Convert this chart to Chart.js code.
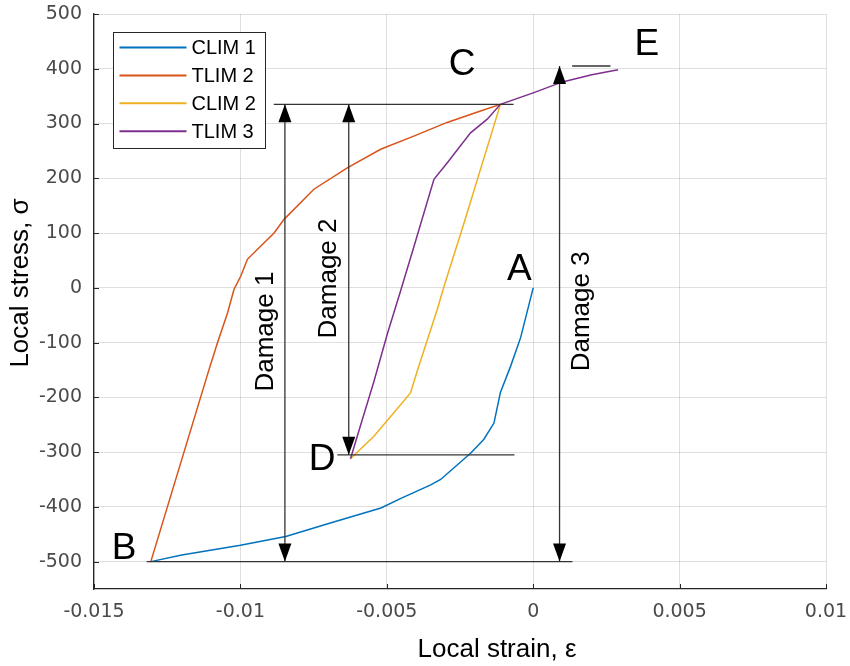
<!DOCTYPE html>
<html>
<head>
<meta charset="utf-8">
<title>Local stress vs local strain</title>
<script src="https://cdn.jsdelivr.net/npm/chart.js@4.4.1/dist/chart.umd.min.js"></script>
<style>
  html, body { margin: 0; padding: 0; background: #fff; }
  canvas { display: block; }
</style>
</head>
<body>
<canvas id="hysteresis" width="850" height="666"></canvas>
<script>
// axis ticks
const xTicks = [-0.015, -0.01, -0.005, 0, 0.005, 0.01];
const yTicks = [-500, -400, -300, -200, -100, 0, 100, 200, 300, 400, 500];

// branch A -> B
const clim1Strain = [0, -0.00043, -0.00077, -0.00112, -0.00134, -0.00169, -0.00214, -0.00316, -0.0035, -0.0045, -0.0052, -0.0069, -0.00845, -0.01, -0.012, -0.01306];
const clim1Stress = [0, -91, -143, -191, -247, -277, -302, -350, -360, -384, -402, -429, -454, -470, -488, -500];

// branch B -> C
const tlim2Strain = [-0.01306, -0.01107, -0.01078, -0.01044, -0.01022, -0.00999, -0.00976, -0.00931, -0.00885, -0.00851, -0.00749, -0.00635, -0.00521, -0.00408, -0.00294, -0.0018, -0.00112];
const tlim2Stress = [-500, -149, -100, -46, -3, 21, 52, 76, 100, 125, 180, 219, 253, 277, 302, 323, 335];

// branch C -> D
const clim2Strain = [-0.00112, -0.00237, -0.00305, -0.00328, -0.00396, -0.00419, -0.00476, -0.00544, -0.00624];
const clim2Stress = [335, 117, 2, -40, -152, -192, -228, -271, -312];

// branch D -> E
const tlim3Strain = [-0.00624, -0.00589, -0.00544, -0.00498, -0.00453, -0.00408, -0.00339, -0.00294, -0.00214, -0.00157, -0.00112, 0, 0.001, 0.002, 0.0029];
const tlim3Stress = [-312, -250, -171, -84, -6, 74, 198, 228, 283, 308, 335, 356, 376, 389, 398];

const seriesNames = ['CLIM 1', 'TLIM 2', 'CLIM 2', 'TLIM 3'];

// horizontal guide lines (stress level, strain start, strain end)
const guideStress = [335, -500, -305, 405];
const guideFrom = [-0.00886, -0.0132, -0.00669, 0.00133];
const guideTo = [-0.00067, 0.00134, -0.00064, 0.00264];

// damage arrows (strain position, upper stress, lower stress)
const damageStrain = [-0.00848, -0.0063, 0.0009];
const damageTop = [335, 335, 405];
const damageBottom = [-500, -305, -500];
const damageNames = ['Damage 1', 'Damage 2', 'Damage 3'];
const damageLabelStrain = [-0.00912, -0.00697, 0.00165];
const damageLabelStress = [-80, 17, -43];

// point letters
const pointNames = ['A', 'B', 'C', 'D', 'E'];
const pointStrain = [-0.00047, -0.01397, -0.00243, -0.00721, 0.00388];
const pointStress = [33, -477, 407, -314, 443];

const colors = ['#0072BD', '#D95319', '#EDB120', '#7E2F8E'];
const AXIS = '#262626';
const SANS = '"Liberation Sans", Arial, sans-serif';

const pairs = (xs, ys) => xs.map((v, i) => ({ x: v, y: ys[i] }));
const branches = [
  pairs(clim1Strain, clim1Stress),
  pairs(tlim2Strain, tlim2Stress),
  pairs(clim2Strain, clim2Stress),
  pairs(tlim3Strain, tlim3Stress)
];

const datasets = branches.map((pts, i) => ({
  label: seriesNames[i],
  data: pts,
  showLine: true,
  borderColor: colors[i],
  backgroundColor: colors[i],
  borderWidth: 1.5,
  pointRadius: 0,
  tension: 0,
  order: branches.length - 1 - i
}));

function segment(ctx, x1, y1, x2, y2) {
  ctx.beginPath();
  ctx.moveTo(x1, y1);
  ctx.lineTo(x2, y2);
  ctx.stroke();
}

function arrowHead(ctx, px, py, dir) {
  // dir = -1 points up, +1 points down
  ctx.beginPath();
  ctx.moveTo(px, py);
  ctx.lineTo(px - 6.5, py - dir * 18);
  ctx.lineTo(px + 6.5, py - dir * 18);
  ctx.closePath();
  ctx.fill();
}

const overlay = {
  id: 'overlay',
  afterDatasetsDraw(chart) {
    const { ctx, scales: { x, y } } = chart;
    ctx.save();
    ctx.strokeStyle = '#333';
    ctx.fillStyle = '#000';
    ctx.lineWidth = 1.3;

    guideStress.forEach((s, i) => {
      const py = y.getPixelForValue(s);
      segment(ctx, x.getPixelForValue(guideFrom[i]), py, x.getPixelForValue(guideTo[i]), py);
    });

    damageStrain.forEach((e, i) => {
      const px = x.getPixelForValue(e);
      const top = y.getPixelForValue(damageTop[i]);
      const bot = y.getPixelForValue(damageBottom[i]);
      segment(ctx, px, top, px, bot);
      arrowHead(ctx, px, top, -1);
      arrowHead(ctx, px, bot, 1);
    });

    ctx.fillStyle = '#000';
    ctx.textAlign = 'center';
    ctx.textBaseline = 'middle';
    ctx.font = '26px ' + SANS;
    damageNames.forEach((t, i) => {
      ctx.save();
      ctx.translate(x.getPixelForValue(damageLabelStrain[i]), y.getPixelForValue(damageLabelStress[i]));
      ctx.rotate(-Math.PI / 2);
      ctx.fillText(t, 0, 0);
      ctx.restore();
    });

    ctx.font = '37px ' + SANS;
    pointNames.forEach((t, i) => {
      ctx.fillText(t, x.getPixelForValue(pointStrain[i]), y.getPixelForValue(pointStress[i]));
    });
    ctx.restore();
  },
  afterDraw(chart) {
    const { ctx, chartArea: a, scales: { x, y } } = chart;
    ctx.save();

    // inward tick marks
    ctx.strokeStyle = AXIS;
    ctx.lineWidth = 1;
    xTicks.forEach(v => {
      const px = Math.round(x.getPixelForValue(v)) + 0.5;
      segment(ctx, px, a.bottom, px, a.bottom - 5);
    });
    yTicks.forEach(v => {
      const py = Math.round(y.getPixelForValue(v)) + 0.5;
      segment(ctx, a.left, py, a.left + 5, py);
    });

    // legend box
    const lx = a.left + 19.5, ly = a.top + 18.5;
    ctx.fillStyle = '#fff';
    ctx.fillRect(lx, ly, 152, 116);
    ctx.strokeStyle = AXIS;
    ctx.strokeRect(lx, ly, 152, 116);
    ctx.font = '20px ' + SANS;
    ctx.textAlign = 'left';
    ctx.textBaseline = 'middle';
    seriesNames.forEach((name, i) => {
      const ry = ly + 15 + i * 27.9;
      ctx.strokeStyle = colors[i];
      ctx.lineWidth = 2;
      segment(ctx, lx + 6, ry, lx + 73, ry);
      ctx.fillStyle = '#000';
      ctx.fillText(name, lx + 78, ry + 1);
    });

    // axis titles
    ctx.fillStyle = '#000';
    ctx.font = '26px ' + SANS;
    ctx.textAlign = 'center';
    ctx.fillText('Local strain, ε', 497, 650);
    ctx.save();
    ctx.translate(21, 283);
    ctx.rotate(-Math.PI / 2);
    ctx.fillText('Local stress, σ', 0, 0);
    ctx.restore();

    ctx.restore();
  }
};

const tickFont = { family: '"DejaVu Sans", sans-serif', size: 19 };

new Chart(document.getElementById('hysteresis'), {
  type: 'scatter',
  data: { datasets },
  options: {
    responsive: false,
    animation: false,
    events: [],
    layout: { padding: { top: 14, right: 24, bottom: 0, left: 0 } },
    plugins: {
      legend: { display: false },
      tooltip: { enabled: false }
    },
    scales: {
      x: {
        type: 'linear',
        min: -0.015,
        max: 0.01,
        afterBuildTicks: s => { s.ticks = xTicks.map(v => ({ value: v })); },
        afterFit: s => {
          s.height = 77;
          s.paddingLeft = 0;
          s.paddingRight = 0;
        },
        ticks: {
          font: tickFont,
          color: '#4a4a4a',
          padding: 12,
          maxRotation: 0,
          callback: v => String(v)
        },
        grid: { color: 'rgba(38,38,38,0.15)', lineWidth: 1, drawTicks: false },
        border: { color: AXIS, width: 1.3 }
      },
      y: {
        type: 'linear',
        min: -550,
        max: 500,
        afterBuildTicks: s => { s.ticks = yTicks.map(v => ({ value: v })); },
        afterFit: s => {
          s.width = 94;
          s.paddingTop = 0;
          s.paddingBottom = 0;
        },
        ticks: {
          font: tickFont,
          color: '#4a4a4a',
          padding: 12,
          callback: v => String(v)
        },
        grid: { color: 'rgba(38,38,38,0.15)', lineWidth: 1, drawTicks: false },
        border: { color: AXIS, width: 1.3 }
      }
    }
  },
  plugins: [overlay]
});
</script>
</body>
</html>
